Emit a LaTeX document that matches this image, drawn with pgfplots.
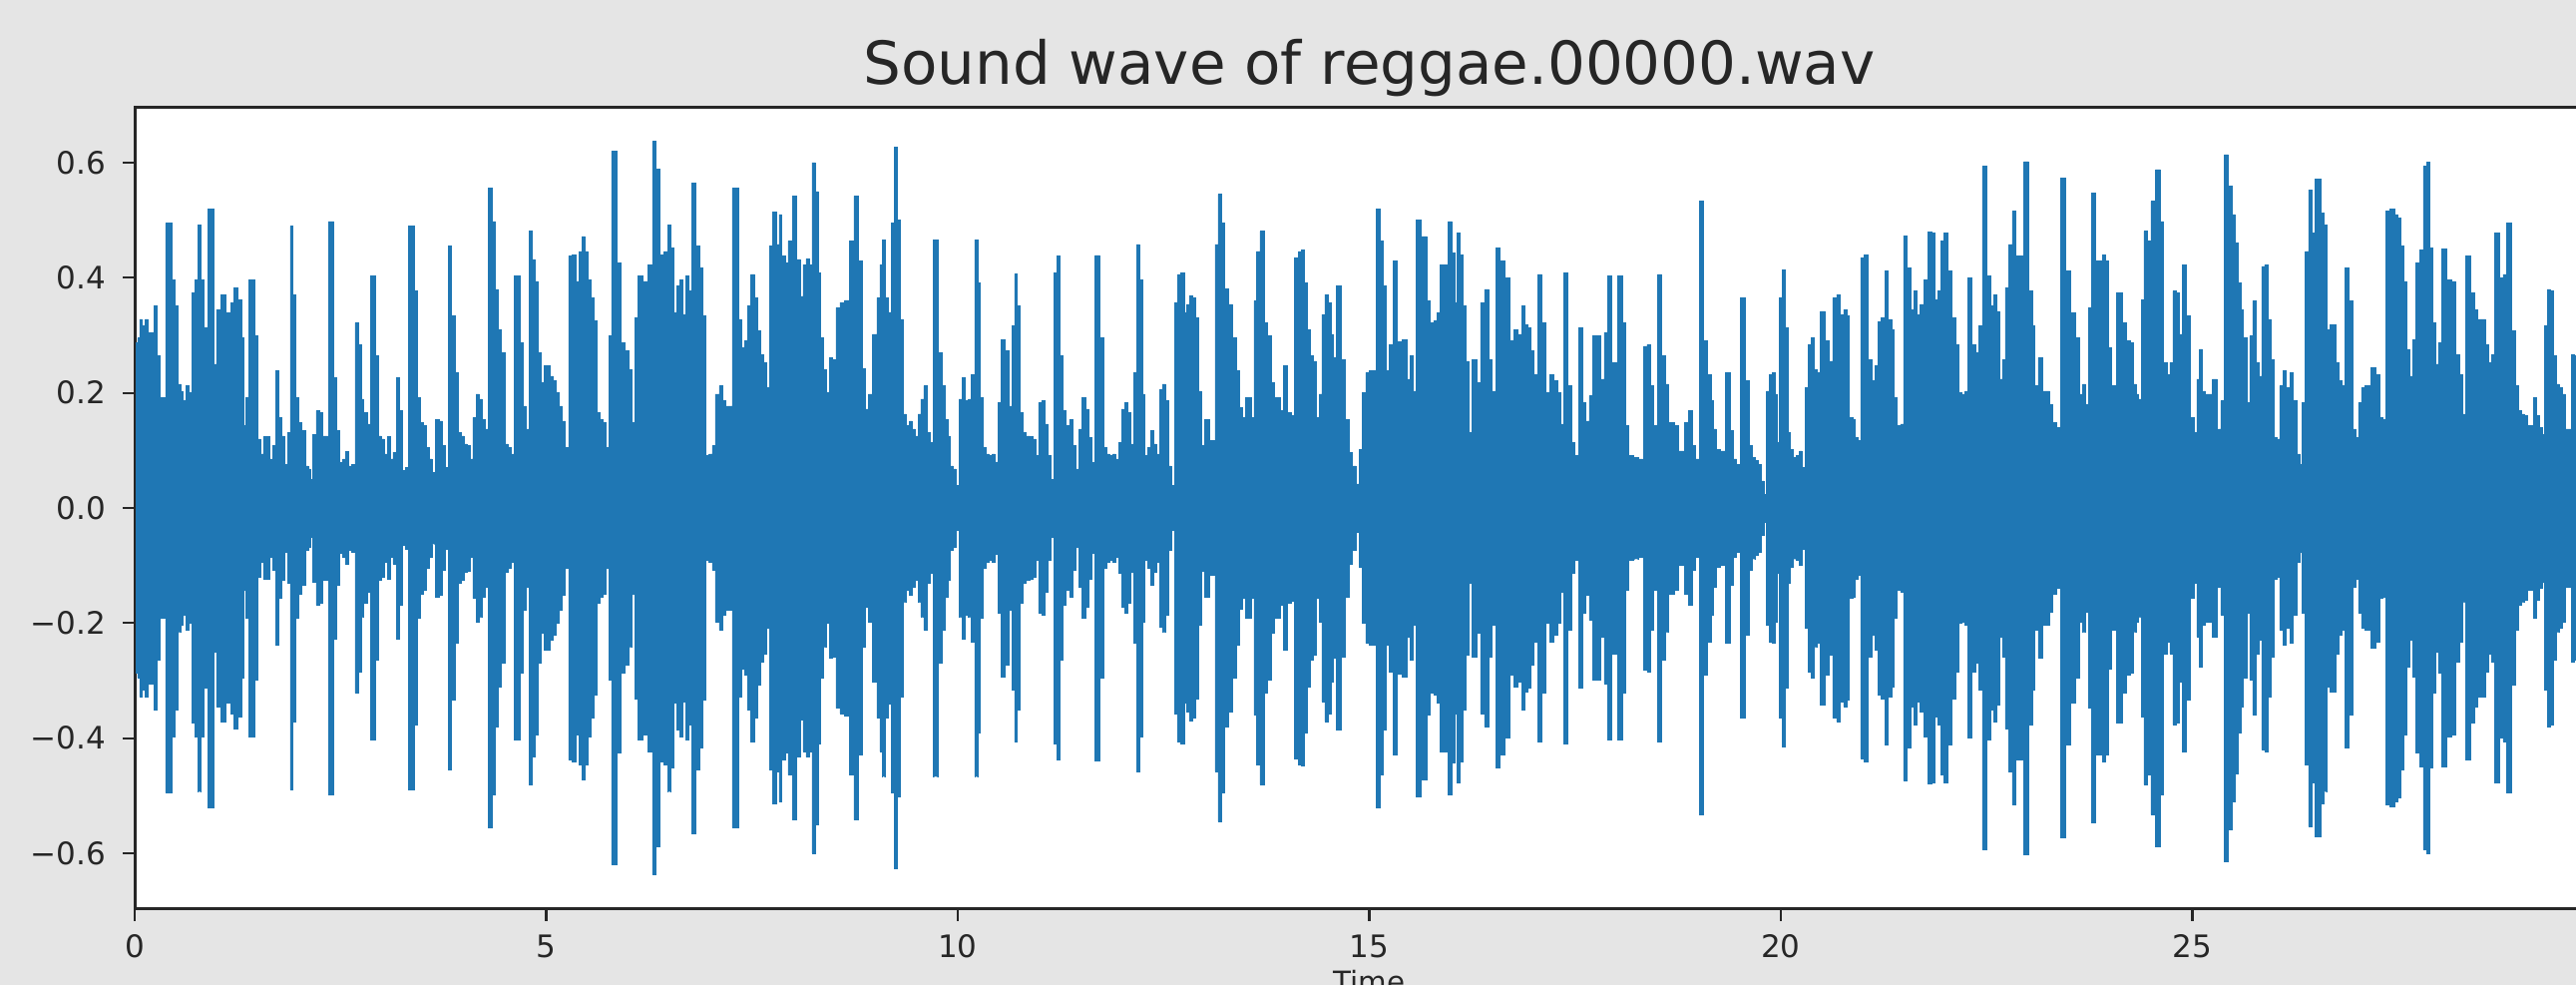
\documentclass[border=0pt]{standalone}
\usepackage{pgfplots}
\usepackage{pgfplotstable}
\usepackage{fontspec}
\setmainfont{DejaVu Sans}
\pgfplotsset{compat=1.18}
\definecolor{wave}{HTML}{1F77B4}
\definecolor{bgc}{HTML}{E5E5E5}
\definecolor{ink}{HTML}{262626}
\pgfplotstableread[row sep=\\]{
t a\\
0.021 .287\\ 0.046 .296\\ 0.071 .328\\ 0.105 .316\\ 0.145 .328\\ 0.180 .305\\ 0.219 .305\\ 0.244 .351\\ 0.284 .264\\ 0.318 .192\\
0.358 .192\\ 0.392 .495\\ 0.427 .495\\ 0.467 .397\\ 0.501 .351\\ 0.541 .215\\ 0.575 .203\\ 0.605 .186\\ 0.640 .212\\ 0.674 .2\\
0.714 .374\\ 0.749 .397\\ 0.788 .492\\ 0.823 .397\\ 0.862 .313\\ 0.912 .52\\ 0.947 .52\\ 0.976 .25\\ 1.011 .345\\ 1.075 .371\\
1.145 .339\\ 1.184 .357\\ 1.224 .383\\ 1.283 .362\\ 1.308 .296\\ 1.333 .143\\ 1.367 .192\\ 1.407 .397\\ 1.441 .397\\ 1.471 .299\\
1.506 .12\\ 1.545 .094\\ 1.58 .124\\ 1.615 .124\\ 1.654 .085\\ 1.694 .108\\ 1.728 .238\\ 1.763 .157\\ 1.803 .125\\ 1.842 .076\\
1.877 .131\\ 1.902 .49\\ 1.941 .371\\ 1.976 .192\\ 2.015 .149\\ 2.05 .134\\ 2.09 .073\\ 2.124 .068\\ 2.149 .05\\ 2.184 .128\\
2.223 .169\\ 2.263 .166\\ 2.297 .125\\ 2.337 .125\\ 2.372 .498\\ 2.406 .498\\ 2.436 .227\\ 2.476 .134\\ 2.51 .079\\ 2.545 .085\\
2.579 .098\\ 2.619 .073\\ 2.659 .076\\ 2.693 .322\\ 2.733 .284\\ 2.767 .189\\ 2.802 .166\\ 2.842 .146\\ 2.881 .403\\ 2.916 .403\\
2.941 .264\\ 2.98 .125\\ 3.015 .12\\ 3.05 .094\\ 3.084 .124\\ 3.119 .085\\ 3.158 .097\\ 3.198 .227\\ 3.238 .169\\ 3.272 .065\\
3.307 .071\\ 3.346 .49\\ 3.381 .49\\ 3.411 .377\\ 3.445 .192\\ 3.485 .149\\ 3.52 .143\\ 3.554 .105\\ 3.594 .085\\ 3.628 .062\\
3.683 .154\\ 3.722 .151\\ 3.757 .108\\ 3.792 .071\\ 3.831 .455\\ 3.871 .334\\ 3.906 .235\\ 3.945 .131\\ 3.98 .125\\ 4.014 .111\\
4.054 .109\\ 4.089 .085\\ 4.128 .157\\ 4.168 .198\\ 4.202 .189\\ 4.237 .154\\ 4.277 .137\\ 4.316 .556\\ 4.366 .498\\ 4.4 .38\\
4.44 .31\\ 4.475 .27\\ 4.514 .111\\ 4.549 .105\\ 4.588 .094\\ 4.638 .403\\ 4.672 .403\\ 4.697 .287\\ 4.732 .177\\ 4.771 .137\\
4.811 .481\\ 4.846 .432\\ 4.88 .394\\ 4.92 .27\\ 4.954 .218\\ 4.994 .247\\ 5.034 .247\\ 5.068 .229\\ 5.103 .221\\ 5.138 .2\\
5.177 .177\\ 5.212 .151\\ 5.251 .105\\ 5.291 .438\\ 5.34 .44\\ 5.375 .394\\ 5.415 .446\\ 5.449 .472\\ 5.489 .446\\ 5.523 .397\\
5.563 .365\\ 5.598 .325\\ 5.632 .166\\ 5.667 .154\\ 5.707 .149\\ 5.741 .105\\ 5.776 .299\\ 5.81 .62\\ 5.85 .62\\ 5.875 .426\\
5.934 .287\\ 5.984 .273\\ 6.023 .241\\ 6.058 .149\\ 6.093 .331\\ 6.132 .403\\ 6.206 .394\\ 6.271 .423\\ 6.305 .637\\ 6.355 .589\\
6.404 .44\\ 6.454 .446\\ 6.494 .492\\ 6.528 .452\\ 6.563 .339\\ 6.602 .386\\ 6.642 .397\\ 6.677 .336\\ 6.711 .403\\ 6.746 .377\\
6.785 .565\\ 6.835 .455\\ 6.884 .417\\ 6.924 .334\\ 6.958 .091\\ 6.998 .094\\ 7.033 .108\\ 7.072 .198\\ 7.131 .212\\ 7.165 .186\\
7.2 .177\\ 7.239 .177\\ 7.279 .556\\ 7.314 .556\\ 7.348 .328\\ 7.388 .279\\ 7.427 .29\\ 7.462 .351\\ 7.512 .406\\ 7.546 .365\\
7.586 .308\\ 7.62 .267\\ 7.66 .253\\ 7.695 .209\\ 7.734 .455\\ 7.774 .514\\ 7.813 .458\\ 7.843 .51\\ 7.883 .438\\ 7.917 .426\\
7.957 .464\\ 8.021 .542\\ 8.066 .432\\ 8.1 .368\\ 8.14 .423\\ 8.175 .433\\ 8.209 .423\\ 8.249 .6\\ 8.288 .55\\ 8.318 .409\\
8.348 .296\\ 8.382 .241\\ 8.417 .2\\ 8.462 .261\\ 8.501 .258\\ 8.536 .348\\ 8.6 .357\\ 8.65 .361\\ 8.714 .464\\ 8.763 .542\\
8.823 .429\\ 8.857 .242\\ 8.892 .172\\ 8.937 .198\\ 8.996 .302\\ 9.036 .365\\ 9.07 .423\\ 9.095 .466\\ 9.13 .365\\ 9.169 .34\\
9.209 .495\\ 9.243 .627\\ 9.293 .501\\ 9.318 .328\\ 9.357 .163\\ 9.392 .143\\ 9.427 .151\\ 9.466 .137\\ 9.501 .125\\ 9.535 .163\\
9.565 .189\\ 9.605 .212\\ 9.639 .131\\ 9.679 .114\\ 9.728 .466\\ 9.788 .27\\ 9.827 .212\\ 9.862 .154\\ 9.892 .125\\ 9.926 .073\\
9.961 .068\\ 9.99 .039\\ 10.035 .189\\ 10.07 .227\\ 10.109 .186\\ 10.149 .189\\ 10.183 .232\\ 10.223 .466\\ 10.258 .391\\ 10.283 .192\\
10.322 .105\\ 10.357 .094\\ 10.396 .091\\ 10.436 .094\\ 10.465 .08\\ 10.505 .183\\ 10.54 .293\\ 10.604 .273\\ 10.644 .177\\ 10.678 .316\\
10.703 .407\\ 10.743 .351\\ 10.777 .166\\ 10.812 .131\\ 10.851 .125\\ 10.891 .124\\ 10.926 .12\\ 10.96 .091\\ 11 .183\\ 11.035 .186\\
11.074 .146\\ 11.109 .091\\ 11.148 .05\\ 11.188 .409\\ 11.218 .438\\ 11.257 .264\\ 11.297 .169\\ 11.336 .143\\ 11.376 .154\\ 11.411 .108\\
11.445 .068\\ 11.495 .137\\ 11.529 .192\\ 11.569 .172\\ 11.609 .123\\ 11.643 .079\\ 11.693 .439\\ 11.752 .296\\ 11.792 .105\\ 11.826 .094\\
11.866 .091\\ 11.9 .094\\ 11.94 .085\\ 11.97 .114\\ 12.009 .172\\ 12.049 .183\\ 12.088 .166\\ 12.118 .111\\ 12.158 .235\\ 12.187 .458\\
12.222 .397\\ 12.257 .198\\ 12.287 .091\\ 12.326 .105\\ 12.361 .134\\ 12.395 .111\\ 12.435 .094\\ 12.469 .206\\ 12.504 .215\\ 12.544 .186\\
12.578 .073\\ 12.613 .039\\ 12.648 .357\\ 12.692 .406\\ 12.732 .409\\ 12.766 .339\\ 12.796 .354\\ 12.841 .369\\ 12.87 .365\\ 12.905 .331\\
12.94 .203\\ 12.974 .109\\ 13.014 .154\\ 13.048 .154\\ 13.078 .117\\ 13.108 .117\\ 13.142 .458\\ 13.182 .545\\ 13.217 .495\\ 13.261 .381\\
13.306 .354\\ 13.365 .296\\ 13.4 .238\\ 13.439 .175\\ 13.474 .157\\ 13.514 .192\\ 13.548 .192\\ 13.583 .157\\ 13.612 .36\\ 13.647 .446\\
13.697 .481\\ 13.746 .322\\ 13.786 .299\\ 13.82 .218\\ 13.86 .192\\ 13.895 .192\\ 13.934 .169\\ 13.984 .247\\ 14.033 .166\\ 14.068 .161\\
14.117 .435\\ 14.157 .446\\ 14.192 .448\\ 14.226 .391\\ 14.266 .31\\ 14.305 .264\\ 14.34 .255\\ 14.375 .157\\ 14.404 .198\\ 14.439 .336\\
14.478 .371\\ 14.513 .357\\ 14.548 .302\\ 14.582 .261\\ 14.617 .386\\ 14.631 .386\\ 14.68 .258\\ 14.73 .154\\ 14.779 .097\\ 14.814 .073\\
14.853 .042\\ 14.893 .102\\ 14.938 .2\\ 14.977 .235\\ 15.027 .238\\ 15.061 .238\\ 15.1 .52\\ 15.15 .464\\ 15.185 .386\\ 15.224 .238\\
15.264 .284\\ 15.309 .429\\ 15.373 .289\\ 15.432 .293\\ 15.472 .224\\ 15.511 .264\\ 15.546 .203\\ 15.596 .501\\ 15.67 .472\\ 15.719 .36\\
15.759 .322\\ 15.803 .325\\ 15.843 .339\\ 15.883 .423\\ 15.932 .423\\ 15.982 .498\\ 16.016 .443\\ 16.051 .357\\ 16.08 .478\\ 16.115 .44\\
16.15 .351\\ 16.189 .255\\ 16.224 .131\\ 16.278 .258\\ 16.328 .218\\ 16.373 .357\\ 16.422 .38\\ 16.476 .258\\ 16.511 .203\\ 16.56 .452\\
16.62 .429\\ 16.674 .4\\ 16.734 .29\\ 16.783 .31\\ 16.833 .302\\ 16.867 .351\\ 16.907 .319\\ 16.942 .313\\ 16.981 .273\\ 17.016 .232\\
17.07 .406\\ 17.12 .322\\ 17.164 .2\\ 17.219 .232\\ 17.263 .221\\ 17.303 .2\\ 17.337 .146\\ 17.387 .409\\ 17.436 .212\\ 17.476 .114\\
17.52 .091\\ 17.575 .313\\ 17.609 .183\\ 17.649 .151\\ 17.694 .195\\ 17.733 .299\\ 17.797 .299\\ 17.832 .224\\ 17.872 .305\\ 17.911 .403\\
17.971 .253\\ 18.055 .403\\ 18.094 .322\\ 18.129 .143\\ 18.169 .091\\ 18.243 .088\\ 18.307 .085\\ 18.357 .281\\ 18.391 .284\\ 18.431 .212\\
18.475 .143\\ 18.525 .406\\ 18.579 .264\\ 18.614 .215\\ 18.663 .149\\ 18.738 .143\\ 18.777 .099\\ 18.812 .099\\ 18.851 .149\\ 18.896 .169\\
18.945 .108\\ 18.985 .085\\ 19.034 .533\\ 19.084 .29\\ 19.133 .232\\ 19.168 .186\\ 19.198 .137\\ 19.232 .102\\ 19.297 .099\\ 19.356 .235\\
19.406 .134\\ 19.445 .085\\ 19.48 .076\\ 19.539 .365\\ 19.594 .221\\ 19.633 .108\\ 19.668 .088\\ 19.702 .082\\ 19.742 .076\\ 19.777 .047\\
19.811 .024\\ 19.841 .203\\ 19.876 .232\\ 19.91 .235\\ 19.94 .198\\ 19.965 .114\\ 20 .365\\ 20.034 .414\\ 20.074 .313\\ 20.098 .131\\
20.133 .102\\ 20.168 .088\\ 20.207 .091\\ 20.242 .099\\ 20.276 .071\\ 20.311 .209\\ 20.346 .284\\ 20.385 .296\\ 20.42 .241\\ 20.455 .235\\
20.504 .342\\ 20.568 .29\\ 20.603 .255\\ 20.652 .365\\ 20.702 .371\\ 20.742 .336\\ 20.781 .345\\ 20.816 .334\\ 20.85 .157\\ 20.89 .154\\
20.915 .123\\ 20.949 .117\\ 20.989 .435\\ 21.038 .44\\ 21.088 .258\\ 21.127 .221\\ 21.167 .247\\ 21.202 .324\\ 21.236 .331\\ 21.286 .412\\
21.325 .328\\ 21.36 .31\\ 21.395 .192\\ 21.434 .143\\ 21.469 .146\\ 21.508 .473\\ 21.558 .417\\ 21.593 .345\\ 21.632 .377\\ 21.667 .336\\
21.716 .354\\ 21.766 .397\\ 21.815 .479\\ 21.855 .478\\ 21.889 .362\\ 21.924 .377\\ 21.964 .464\\ 22.003 .478\\ 22.053 .412\\ 22.102 .331\\
22.135 .284\\ 22.179 .2\\ 22.217 .198\\ 22.251 .203\\ 22.294 .4\\ 22.347 .284\\ 22.381 .27\\ 22.419 .316\\ 22.477 .594\\ 22.53 .403\\
22.563 .351\\ 22.602 .371\\ 22.635 .342\\ 22.669 .224\\ 22.708 .258\\ 22.746 .383\\ 22.785 .458\\ 22.833 .516\\ 22.881 .438\\ 22.929 .438\\
22.977 .602\\ 23.035 .377\\ 23.068 .316\\ 23.102 .212\\ 23.15 .261\\ 23.203 .203\\ 23.251 .203\\ 23.285 .18\\ 23.323 .149\\ 23.371 .14\\
23.429 .573\\ 23.491 .412\\ 23.549 .339\\ 23.607 .296\\ 23.645 .198\\ 23.684 .215\\ 23.722 .18\\ 23.756 .348\\ 23.789 .547\\ 23.842 .429\\
23.886 .429\\ 23.924 .44\\ 23.962 .429\\ 23.996 .279\\ 24.035 .212\\ 24.116 .374\\ 24.179 .322\\ 24.222 .29\\ 24.261 .287\\ 24.294 .215\\
24.333 .198\\ 24.362 .189\\ 24.395 .362\\ 24.429 .481\\ 24.467 .464\\ 24.525 .533\\ 24.583 .588\\ 24.631 .498\\ 24.669 .253\\ 24.708 .232\\
24.741 .253\\ 24.78 .377\\ 24.818 .374\\ 24.852 .302\\ 24.9 .423\\ 24.958 .334\\ 24.996 .157\\ 25.035 .131\\ 25.068 .224\\ 25.107 .276\\
25.14 .203\\ 25.179 .198\\ 25.217 .198\\ 25.265 .224\\ 25.323 .137\\ 25.362 .186\\ 25.41 .614\\ 25.458 .559\\ 25.496 .51\\ 25.535 .461\\
25.568 .391\\ 25.602 .345\\ 25.64 .296\\ 25.679 .183\\ 25.712 .299\\ 25.751 .36\\ 25.785 .253\\ 25.823 .229\\ 25.861 .42\\ 25.895 .423\\
25.934 .328\\ 25.967 .258\\ 26.006 .123\\ 26.04 .12\\ 26.078 .212\\ 26.117 .238\\ 26.16 .209\\ 26.208 .235\\ 26.246 .186\\ 26.285 .094\\
26.318 .076\\ 26.352 .183\\ 26.391 .446\\ 26.429 .553\\ 26.467 .478\\ 26.506 .571\\ 26.544 .571\\ 26.578 .513\\ 26.612 .492\\ 26.65 .31\\
26.689 .319\\ 26.727 .319\\ 26.756 .253\\ 26.794 .221\\ 26.833 .212\\ 26.881 .417\\ 26.929 .36\\ 26.963 .137\\ 26.996 .123\\ 27.035 .183\\
27.073 .209\\ 27.112 .212\\ 27.145 .212\\ 27.193 .244\\ 27.251 .232\\ 27.29 .157\\ 27.328 .154\\ 27.371 .516\\ 27.434 .519\\ 27.482 .51\\
27.516 .504\\ 27.549 .455\\ 27.583 .394\\ 27.621 .276\\ 27.66 .229\\ 27.689 .293\\ 27.737 .426\\ 27.78 .449\\ 27.828 .594\\ 27.862 .601\\
27.9 .452\\ 27.934 .322\\ 27.968 .25\\ 28.006 .287\\ 28.059 .45\\ 28.117 .397\\ 28.17 .394\\ 28.218 .267\\ 28.261 .232\\ 28.299 .163\\
28.343 .438\\ 28.41 .374\\ 28.443 .345\\ 28.482 .328\\ 28.54 .328\\ 28.573 .284\\ 28.612 .253\\ 28.65 .267\\ 28.698 .478\\ 28.756 .4\\
28.794 .406\\ 28.847 .495\\ 28.9 .308\\ 28.939 .212\\ 28.977 .169\\ 29.016 .163\\ 29.054 .16\\ 29.093 .143\\ 29.131 .143\\ 29.16 .192\\
29.198 .16\\ 29.237 .14\\ 29.261 .128\\ 29.285 .316\\ 29.333 .38\\ 29.366 .377\\ 29.405 .264\\ 29.438 .215\\ 29.477 .209\\ 29.511 .198\\
29.549 .137\\ 29.583 .137\\ 29.621 .267\\ 29.66 .264\\ 29.70 .264\\
}\wave
\begin{document}
\begin{tikzpicture}
\useasboundingbox (0,0) rectangle (774.6pt,296.1pt);
\clip (0,0) rectangle (774.6pt,296.1pt);
\fill[bgc] (0,0) rectangle (774.6pt,296.1pt);
\begin{axis}[
  at={(40.5pt,22.8pt)}, anchor=south west,
  scale only axis, width=742.5pt, height=241.2pt,
  xmin=0, xmax=30, ymin=-0.697, ymax=0.697,
  axis background/.style={fill=white},
  axis line style={draw=ink, line width=0.9pt},
  tick align=outside, tick pos=left,
  major tick length=3.6pt,
  tick style={draw=ink, line width=0.65pt},
  xtick={0,5,10,15,20,25},
  ytick={-0.6,-0.4,-0.2,0,0.2,0.4,0.6},
  yticklabels={\textminus0.6,\textminus0.4,\textminus0.2,0.0,0.2,0.4,0.6},
  xticklabel style={font=\fontsize{9.3}{11}\selectfont, text=ink, yshift=-0.5pt},
  yticklabel style={font=\fontsize{9.3}{11}\selectfont, text=ink, xshift=-1.5pt},
  /pgf/number format/assume math mode=true,
  title={Sound wave of reggae.00000.wav},
  title style={font=\fontsize{17.85}{20}\selectfont, text=ink, at={(axis description cs:0.5,1)}, anchor=base, yshift=0.7pt},
  xlabel={Time},
  xlabel style={font=\fontsize{8.8}{11}\selectfont, text=ink, at={(axis description cs:0.5,0)}, anchor=north, yshift=-14.7pt},
]
\addplot[draw=wave, line width=0.15pt, fill=wave, const plot mark mid] table[x=t,y=a]{\wave} \closedcycle;
\addplot[draw=wave, line width=0.15pt, fill=wave, const plot mark mid] table[x=t,y expr=-\thisrow{a}]{\wave} \closedcycle;
\end{axis}
\end{tikzpicture}
\end{document}
